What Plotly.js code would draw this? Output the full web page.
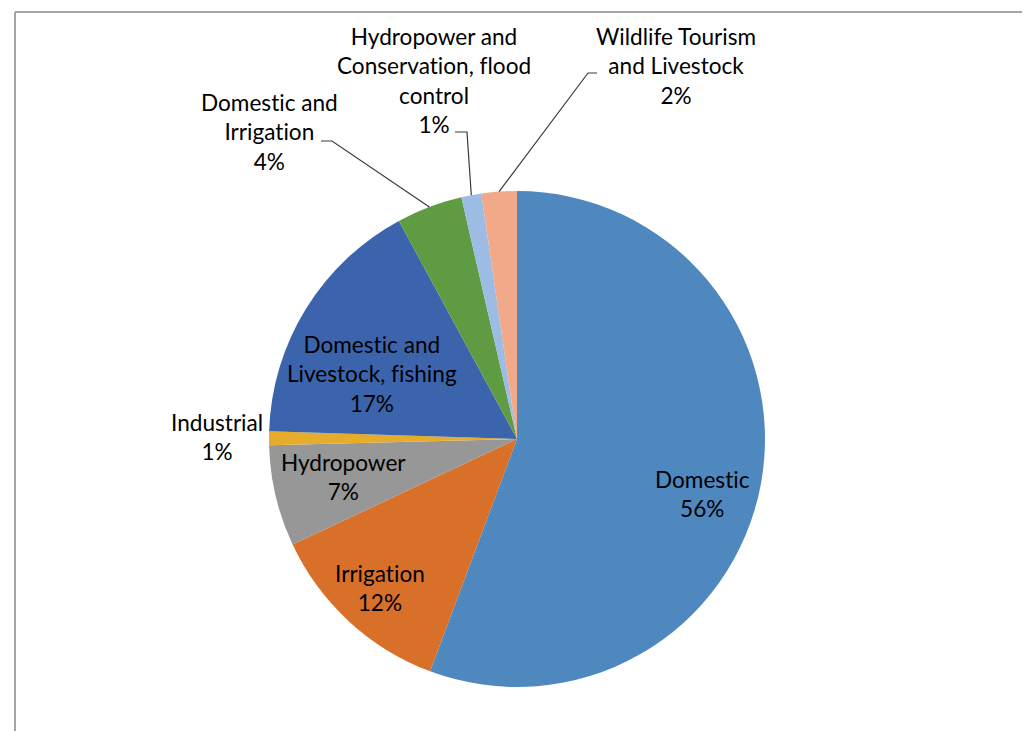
<!DOCTYPE html>
<html>
<head>
<meta charset="utf-8">
<script src="https://cdn.plot.ly/plotly-3.0.1.min.js"></script>
<style>
html,body{margin:0;padding:0;background:#fff;}
#chart{width:1034px;height:731px;}
svg text{font-variant-ligatures:none;font-feature-settings:"liga" 0;}
</style>
</head>
<body>
<div id="chart"></div>
<script>
// ---- data ----
const categories = [
  "Domestic",
  "Irrigation",
  "Hydropower",
  "Industrial",
  "Domestic and Livestock, fishing",
  "Domestic and Irrigation",
  "Hydropower and Conservation, flood control",
  "Wildlife Tourism and Livestock"
];
const labelLines = [
  "Domestic",
  "Irrigation",
  "Hydropower",
  "Industrial",
  "Domestic and<br>Livestock, fishing",
  "Domestic and<br>Irrigation",
  "Hydropower and<br>Conservation, flood<br>control",
  "Wildlife Tourism<br>and Livestock"
];
const values = [55.7, 12.3, 6.6, 0.9, 16.6, 4.3, 1.3, 2.3];
const colors = ["#4F88BF", "#D9702A", "#979797", "#E6AD2C", "#3B64AD", "#5F9B42", "#9CBCE3", "#F2A98A"];

// ---- layout geometry (pixels) ----
const W = 1034, H = 731;
const pieLeft = 269, pieRight = 765, pieTop = 191, pieBottom = 687;
const cx = (pieLeft + pieRight) / 2, cy = (pieTop + pieBottom) / 2, R = (pieRight - pieLeft) / 2;
const px = x => x / W;
const py = y => 1 - y / H;

// label placement (pixel centre of text block)
const labelPos = [
  {x: 702, y: 494},
  {x: 380, y: 588},
  {x: 343, y: 477},
  {x: 217, y: 437},
  {x: 372, y: 374},
  {x: 269, y: 132},
  {x: 434, y: 80},
  {x: 676, y: 66}
];
// leader line paths: [startX, startY, elbowX, elbowY] then to slice edge
const leaders = {
  5: [321, 141, 332, 141],
  6: [455, 132, 467, 132],
  7: [597, 73, 588, 73]
};

const total = values.reduce((a, b) => a + b, 0);
const annotations = [];
const shapes = [];
let cum = 0;
values.forEach((v, i) => {
  const mid = (cum + v / 2) / total;
  cum += v;
  const pct = Math.round(v / total * 100);
  annotations.push({
    xref: "paper", yref: "paper",
    x: px(labelPos[i].x), y: py(labelPos[i].y),
    xanchor: "center", yanchor: "middle",
    text: labelLines[i] + "<br>" + pct + "%",
    showarrow: false, align: "center",
    font: {family: "Lato, 'Open Sans', sans-serif", size: 22.6, color: "#000"}
  });
  if (leaders[i]) {
    const ang = mid * 2 * Math.PI; // clockwise from 12 o'clock
    const ex = cx + R * Math.sin(ang);
    const ey = cy - R * Math.cos(ang);
    const L = leaders[i];
    shapes.push({
      type: "path", xref: "paper", yref: "paper",
      path: `M ${px(L[0])},${py(L[1])} L ${px(L[2])},${py(L[3])} L ${px(ex)},${py(ey)}`,
      line: {color: "#3a3a3a", width: 1.2}
    });
  }
});

// frame (top and left edges)
shapes.push({type: "line", xref: "paper", yref: "paper", x0: px(15), y0: py(12), x1: px(1022), y1: py(12), line: {color: "#A6A6A6", width: 2}});
shapes.push({type: "line", xref: "paper", yref: "paper", x0: px(15), y0: py(12), x1: px(15), y1: py(731), line: {color: "#A6A6A6", width: 2}});

const trace = {
  type: "pie",
  labels: categories,
  values: values,
  sort: false,
  direction: "clockwise",
  rotation: 0,
  textinfo: "none",
  hoverinfo: "label+percent",
  marker: {colors: colors, line: {width: 0}},
  domain: {x: [px(pieLeft), px(pieRight)], y: [py(pieBottom), py(pieTop)]},
  showlegend: false
};

const layout = {
  width: W, height: H,
  margin: {l: 0, r: 0, t: 0, b: 0},
  paper_bgcolor: "#fff",
  showlegend: false,
  annotations: annotations,
  shapes: shapes
};

Plotly.newPlot("chart", [trace], layout, {displayModeBar: false, staticPlot: true});
</script>
</body>
</html>
